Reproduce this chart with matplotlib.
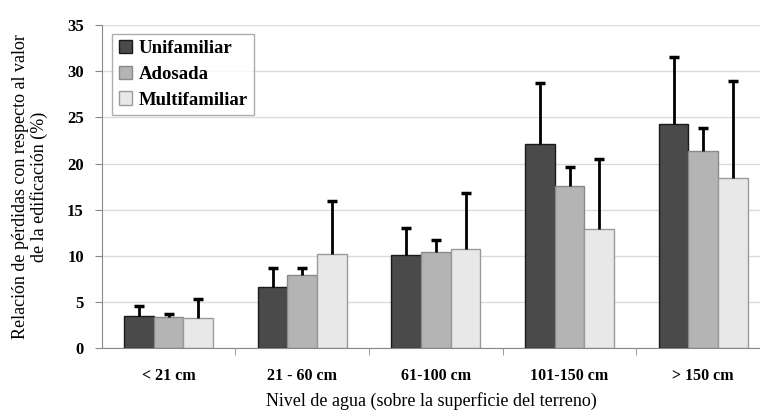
import matplotlib.pyplot as plt
import numpy as np

categorias = ['< 21 cm', '21 - 60 cm', '61-100 cm', '101-150 cm', '> 150 cm']
unifamiliar = [3.5, 6.6, 10.1, 22.1, 24.3]
unifamiliar_err = [1.1, 2.1, 2.9, 6.6, 7.2]
adosada = [3.35, 7.9, 10.45, 17.6, 21.4]
adosada_err = [0.4, 0.8, 1.3, 2.0, 2.5]
multifamiliar = [3.25, 10.15, 10.75, 12.95, 18.4]
multifamiliar_err = [2.1, 5.75, 6.1, 7.5, 10.6]

plt.rcParams['font.family'] = ['Liberation Serif', 'DejaVu Serif']

fig = plt.figure(figsize=(7.6, 4.12), dpi=100)
ax = fig.add_axes([0.134, 0.155, 0.866, 0.784])

x = np.arange(len(categorias))
width = 0.222
series = [
    (unifamiliar, unifamiliar_err, '#4a4a4a', '#1a1a1a', 'Unifamiliar'),
    (adosada, adosada_err, '#b4b4b4', '#8a8a8a', 'Adosada'),
    (multifamiliar, multifamiliar_err, '#e8e8e8', '#9a9a9a', 'Multifamiliar'),
]
for i, (vals, err, color, edge, label) in enumerate(series):
    yerr = [np.zeros(len(vals)), err]
    ax.bar(x + (i - 1) * width, vals, width, color=color, edgecolor=edge,
           linewidth=1.0, label=label, zorder=2)
    eb = ax.errorbar(x + (i - 1) * width, vals, yerr=yerr, fmt='none', ecolor='black',
                     elinewidth=2, capsize=3.5, capthick=2.5, zorder=3)
    eb[1][0].set_visible(False)  # solo la barra superior

ax.set_ylim(0, 35)
ax.set_xlim(-0.5, 4.425)
ax.set_yticks(np.arange(0, 36, 5))
ax.yaxis.grid(True, color='#dcdcdc', linewidth=1, zorder=0)
ax.set_axisbelow(True)

ax.set_xticks(x)
ax.set_xticklabels(categorias, fontsize=11.5, fontweight='bold')
ax.tick_params(axis='x', length=0, pad=14)
ax.set_xticks(np.arange(0.5, 4.5, 1), minor=True)
ax.tick_params(axis='x', which='minor', length=5, color='#888888')
ax.tick_params(axis='y', length=5, color='#888888', labelsize=12, pad=8)
for t in ax.get_yticklabels():
    t.set_fontweight('bold')

for s in ['top', 'right']:
    ax.spines[s].set_visible(False)
ax.spines['left'].set_color('#888888')
ax.spines['bottom'].set_color('#888888')

ax.set_xlabel('Nivel de agua (sobre la superficie del terreno)', fontsize=13, labelpad=6)
ax.set_ylabel('Relación de pérdidas con respecto al valor\nde la edificación (%)',
              fontsize=13, linespacing=1.05, labelpad=14)

leg = ax.legend(loc='upper left', bbox_to_anchor=(0.01, 0.985),
                prop={'weight': 'bold', 'size': 13.5}, fancybox=False,
                edgecolor='#999999', handlelength=0.7, handleheight=0.7,
                handletextpad=0.35, borderpad=0.35, labelspacing=0.45,
                borderaxespad=0.2)
leg.get_frame().set_linewidth(1)

fig.savefig('out.png', dpi=100)
